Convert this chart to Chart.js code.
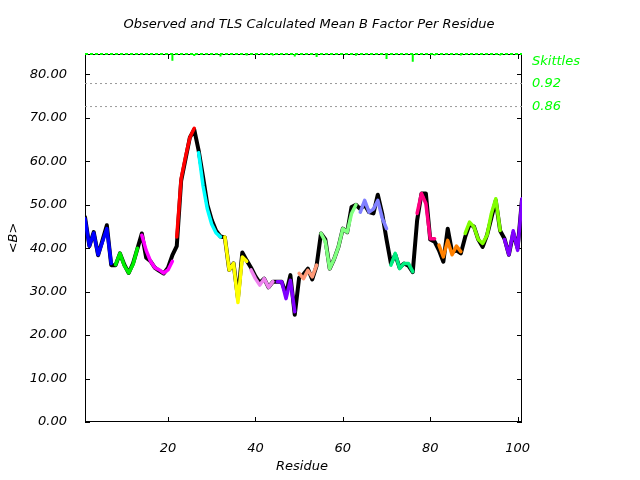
<!DOCTYPE html>
<html><head><meta charset="utf-8">
<script src="https://cdn.jsdelivr.net/npm/chart.js@4.4.0/dist/chart.umd.min.js"></script>
<style>html,body{margin:0;padding:0;background:#fff}</style>
</head><body><canvas id="c" width="640" height="480"></canvas>
<script>
const residues = [1,2,3,4,5,6,7,8,9,10,11,12,13,14,15,16,17,18,19,20,
  21,22,23,24,25,26,27,28,29,30,31,32,33,34,35,36,37,38,39,40,
  41,42,43,44,45,46,47,48,49,50,51,52,53,54,55,56,57,58,59,60,
  61,62,63,64,65,66,67,68,69,70,71,72,73,74,75,76,77,78,79,80,
  81,82,83,84,85,86,87,88,89,90,91,92,93,94,95,96,97,98,99,100,101];
const observedB = [47.2,40.5,43.7,38.4,41.8,45.3,36.1,36.1,38.8,36.2,
  34.3,36.5,39.9,43.4,37.8,37.0,35.5,34.8,34.2,35.5,
  38.4,40.5,55.5,60.5,65.5,67.3,62.5,56.5,50.0,46.5,
  44.0,42.7,42.5,35.0,36.5,28.5,39.0,37.2,35.5,33.5,
  32.0,33.0,31.0,32.3,32.3,32.3,29.5,33.8,24.7,33.2,
  34.0,35.3,32.8,36.0,43.4,42.0,35.3,37.5,40.3,44.5,
  43.7,49.5,50.0,49.0,50.0,48.3,48.0,52.3,48.0,42.0,
  36.5,38.5,35.5,36.5,36.0,34.5,46.4,52.6,52.6,42.0,
  41.5,39.5,36.9,44.5,39.1,39.5,38.8,42.6,45.5,45.0,
  42.0,40.3,43.0,47.0,51.0,44.0,42.2,38.5,43.5,40.0,51.2];
const tlsB = [46.8,40.5,43.5,38.5,41.5,44.5,36.5,36.2,38.8,36.0,
  34.3,36.3,40.0,43.0,39.5,37.0,35.5,35.0,34.3,35.0,
  37.0,42.6,56.0,61.0,65.5,67.6,62.0,54.5,49.0,45.5,
  43.5,42.6,42.6,35.0,36.5,27.5,38.0,37.0,35.0,33.0,
  31.5,33.0,31.0,32.3,32.3,32.3,28.4,32.6,25.4,34.2,
  33.0,34.9,33.4,36.1,43.4,41.5,35.3,37.5,40.3,44.5,
  43.7,48.0,50.0,48.3,51.0,48.3,49.0,51.0,47.0,44.5,
  36.1,38.8,35.3,36.5,36.5,34.6,48.0,52.6,50.3,42.2,
  42.2,40.7,38.0,41.8,38.5,40.5,39.2,43.4,46.0,44.9,
  42.0,41.1,43.0,48.0,51.4,44.1,42.0,38.5,44.0,39.5,51.4];
const groupStart = [1,8,14,22,27,33,39,45,50,55,64,71,77,82,88,97];
const groupEnd   = [7,13,21,26,32,38,44,49,54,63,70,76,81,87,96,101];
const groupColors = ['#0000ff','#00ee00','#ff00ff','#ff0000','#00ffff','#ffff00','#ee82ee','#8000ff',
  '#ff9977','#80ff80','#8080ff','#00ee80','#ff0080','#ff8000','#80ff00','#8000ff'];
const skittleRes = [21,26,32,38,44,49,54,63,70,76,81,87,96];
const skittleLen = [1.55,0.46,0.6,0.35,0.35,0.6,0.7,0.4,1.15,1.77,0.35,0.35,0.35];
const refLevels = [77.9, 72.6];
const sideLabels = ['Skittles','0.92','0.86'];
const sideLabelValues = [83.0, 77.9, 72.6];
const xTickValues = [20,40,60,80,100];
const yTickValues = [0,10,20,30,40,50,60,70,80];
const X_MIN = 1, X_MAX = 101, Y_MIN = 0, Y_MAX = 84.7;

const FONT = 'DejaVu Sans';
const datasets = [];
groupStart.forEach((s, g) => {
  const pts = [];
  for (let i = 0; i < residues.length; i++) {
    if (residues[i] >= s && residues[i] <= groupEnd[g]) pts.push({x: residues[i], y: tlsB[i]});
  }
  datasets.push({data: pts, borderColor: groupColors[g], borderWidth: 3.5, pointRadius: 0, order: 0, tension: 0,
    borderJoinStyle: 'round', borderCapStyle: 'round'});
});
datasets.push({data: residues.map((r, i) => ({x: r, y: observedB[i]})), borderColor: '#000', borderWidth: 4,
  pointRadius: 0, order: 1, tension: 0, borderJoinStyle: 'round', borderCapStyle: 'round'});
refLevels.forEach(v => datasets.push({data: [{x: X_MIN, y: v}, {x: X_MAX, y: v}], borderColor: '#999',
  borderWidth: 1, borderDash: [2, 3], pointRadius: 0, order: 3}));
datasets.push({data: [{x: X_MIN, y: Y_MAX}, {x: X_MAX, y: Y_MAX}], borderColor: '#00ff00', borderWidth: 2,
  borderDash: [3, 2], pointRadius: 0, order: -1, clip: false});
const sk = [];
skittleRes.forEach((r, i) => { sk.push({x: r, y: Y_MAX}); sk.push({x: r, y: Y_MAX - skittleLen[i]}); sk.push({x: r, y: null}); });
datasets.push({data: sk, borderColor: '#00ff00', borderWidth: 2, pointRadius: 0, order: -2, spanGaps: false, clip: false});

const deco = {
  id: 'deco',
  beforeDatasetsDraw(chart) {
    const {ctx, chartArea: a, scales: {x, y}} = chart;
    ctx.save();
    ctx.strokeStyle = '#000'; ctx.lineWidth = 1;
    ctx.strokeRect(a.left + 0.5, a.top + 0.5, a.right - a.left - 1, a.bottom - a.top - 1);
    ctx.beginPath();
    xTickValues.forEach(v => { const px = Math.round(x.getPixelForValue(v)) + 0.5;
      ctx.moveTo(px, a.bottom); ctx.lineTo(px, a.bottom - 5); ctx.moveTo(px, a.top); ctx.lineTo(px, a.top + 5); });
    yTickValues.forEach(v => { const py = Math.round(y.getPixelForValue(v)) + 0.5;
      ctx.moveTo(a.left, py); ctx.lineTo(a.left + 5, py); ctx.moveTo(a.right, py); ctx.lineTo(a.right - 5, py); });
    ctx.stroke();
    ctx.restore();
  },
  afterDraw(chart) {
    const {ctx, scales: {y}} = chart;
    ctx.save();
    ctx.fillStyle = '#000';
    ctx.font = 'italic 13px "' + FONT + '"';
    ctx.textAlign = 'center'; ctx.textBaseline = 'middle';
    ctx.fillText('Observed and TLS Calculated Mean B Factor Per Residue', 309, 25);
    ctx.fillText('Residue', 302, 467);
    ctx.save(); ctx.translate(14, 238); ctx.rotate(-Math.PI / 2); ctx.fillText('<B>', 0, 0); ctx.restore();
    ctx.fillStyle = '#00ff00'; ctx.textAlign = 'left';
    sideLabels.forEach((t, i) => ctx.fillText(t, 532, y.getPixelForValue(sideLabelValues[i])));
    ctx.restore();
  }
};

new Chart(document.getElementById('c'), {
  type: 'line',
  data: {datasets},
  options: {
    responsive: false, animation: false, devicePixelRatio: 1,
    layout: {padding: {left: 0, right: 118, top: 54, bottom: 0}},
    plugins: {legend: {display: false}, tooltip: {enabled: false}, title: {display: false}},
    scales: {
      x: {type: 'linear', min: X_MIN, max: X_MAX,
        afterBuildTicks: s => { s.ticks = xTickValues.map(v => ({value: v})); },
        afterFit: s => { s.height = 58; },
        grid: {display: false}, border: {display: false},
        ticks: {padding: 11, color: '#000', font: {family: FONT, size: 13, style: 'italic'}, maxRotation: 0,
          autoSkip: false, callback: v => String(v)}},
      y: {type: 'linear', min: Y_MIN, max: Y_MAX,
        afterBuildTicks: s => { s.ticks = yTickValues.map(v => ({value: v})); },
        afterFit: s => { s.width = 85; },
        grid: {display: false}, border: {display: false},
        ticks: {padding: 10, color: '#000', font: {family: FONT, size: 13, style: 'italic'},
          callback: v => Number(v).toFixed(2)}}
    }
  },
  plugins: [deco]
});
</script></body></html>
